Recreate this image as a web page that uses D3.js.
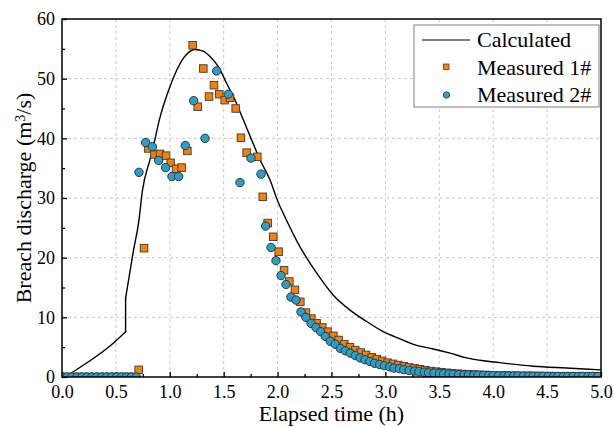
<!DOCTYPE html>
<html><head><meta charset="utf-8"><script src="https://cdn.jsdelivr.net/npm/d3@7"></script></head>
<body style="margin:0">
<script>

// calculated breach hydrograph (time h, discharge m3/s)
const calcTime = [0, 0.07, 0.14, 0.29, 0.445, 0.59, 0.59, 0.661, 0.714, 0.745, 0.816, 0.847, 0.903, 1.002, 1.064, 1.125, 1.234, 1.311, 1.373, 1.45, 1.528, 1.605, 1.682, 1.76, 1.837, 1.93, 2.007, 2.053, 2.208, 2.363, 2.517, 2.672, 2.826, 2.98, 3.135, 3.29, 3.444, 3.6, 3.754, 4.063, 4.372, 4.68, 5.0];
const calcQ    = [0, 0.5, 1.3, 3.1, 5.2, 7.6, 13.2, 21.0, 26.3, 31.1, 36.4, 38.6, 43.1, 48.7, 51.4, 53.4, 54.9, 54.6, 53.7, 52.0, 49.2, 46.4, 43.1, 39.7, 36.4, 33.0, 29.2, 27.4, 21.8, 17.4, 13.7, 11.2, 9.3, 7.6, 6.4, 5.3, 4.7, 4.0, 3.2, 2.4, 1.8, 1.5, 1.2];

// Measured 1#
const m1Time = [0, 0.05, 0.1, 0.15, 0.2, 0.25, 0.3, 0.35, 0.4, 0.45, 0.5, 0.55, 0.6, 0.65, 0.711, 0.761, 0.801, 0.857, 0.909, 0.965, 1.008, 1.058, 1.11, 1.163, 1.212, 1.259, 1.311, 1.364, 1.41, 1.459, 1.509, 1.558, 1.611, 1.66, 1.713, 1.812, 1.862, 1.908, 1.96, 2.01, 2.06, 2.109, 2.161, 2.211, 2.263, 2.313, 2.362, 2.415, 2.464, 2.517, 2.566, 2.619, 2.672, 2.72, 2.771, 2.82, 2.873, 2.92, 2.97, 3.02, 3.07, 3.12, 3.17, 3.22, 3.27, 3.32, 3.37, 3.42, 3.47, 3.52, 3.57, 3.62, 3.67, 3.72, 3.77, 3.82, 3.87, 3.92, 3.97, 4.02, 4.07, 4.12, 4.17, 4.22, 4.27, 4.32, 4.37, 4.42, 4.47, 4.52, 4.57, 4.62, 4.67, 4.72, 4.77, 4.82, 4.87, 4.92, 4.97];
const m1Q    = [0, 0, 0, 0, 0, 0, 0, 0, 0, 0, 0, 0, 0, 0, 1.2, 21.6, 38.3, 37.3, 37.4, 37.1, 35.9, 34.9, 35.1, 37.9, 55.6, 45.3, 51.7, 47.0, 48.9, 47.4, 46.4, 46.8, 45.0, 40.1, 37.6, 36.9, 30.2, 25.8, 23.5, 21.0, 17.9, 16.0, 14.6, 12.6, 10.8, 9.8, 9.0, 8.3, 7.6, 6.9, 6.2, 5.5, 5.0, 4.5, 4.1, 3.7, 3.3, 3.0, 2.7, 2.4, 2.2, 2.0, 1.8, 1.6, 1.45, 1.3, 1.15, 1.0, 0.9, 0.8, 0.7, 0.62, 0.55, 0.5, 0.45, 0.4, 0.36, 0.33, 0.3, 0.28, 0.26, 0.24, 0.22, 0.2, 0.19, 0.18, 0.17, 0.16, 0.15, 0.14, 0.13, 0.12, 0.12, 0.11, 0.1, 0.1, 0.1, 0.1, 0.1];

// Measured 2#
const m2Time = [0, 0.046, 0.092, 0.138, 0.184, 0.23, 0.276, 0.322, 0.368, 0.414, 0.46, 0.506, 0.552, 0.598, 0.644, 0.69, 0.714, 0.776, 0.838, 0.897, 0.961, 1.02, 1.082, 1.144, 1.221, 1.327, 1.435, 1.543, 1.651, 1.753, 1.846, 1.889, 1.939, 1.985, 2.032, 2.078, 2.124, 2.171, 2.217, 2.263, 2.31, 2.356, 2.4, 2.443, 2.489, 2.535, 2.582, 2.628, 2.675, 2.72, 2.766, 2.81, 2.856, 2.9, 2.947, 2.99, 3.04, 3.08, 3.13, 3.17, 3.22, 3.27, 3.31, 3.36, 3.4, 3.45, 3.5, 3.54, 3.59, 3.63, 3.68, 3.73, 3.77, 3.82, 3.86, 3.91, 3.96, 4.0, 4.05, 4.1, 4.14, 4.19, 4.23, 4.28, 4.33, 4.37, 4.42, 4.46, 4.51, 4.56, 4.6, 4.65, 4.69, 4.74, 4.79, 4.83, 4.88, 4.92, 4.97];
const m2Q    = [0, 0, 0, 0, 0, 0, 0, 0, 0, 0, 0, 0, 0, 0, 0, 0, 34.3, 39.3, 38.6, 36.3, 35.1, 33.6, 33.6, 38.8, 46.3, 40.0, 51.3, 47.4, 32.6, 36.7, 34.0, 25.3, 21.7, 19.5, 17.0, 15.5, 13.4, 12.9, 10.9, 10.0, 9.0, 8.3, 7.6, 6.8, 6.0, 5.5, 4.8, 4.4, 4.0, 3.6, 3.2, 2.9, 2.6, 2.3, 2.1, 1.9, 1.7, 1.5, 1.4, 1.25, 1.1, 1.0, 0.9, 0.8, 0.7, 0.65, 0.6, 0.55, 0.5, 0.45, 0.4, 0.38, 0.35, 0.32, 0.3, 0.28, 0.26, 0.24, 0.22, 0.2, 0.19, 0.18, 0.17, 0.16, 0.15, 0.14, 0.13, 0.12, 0.12, 0.11, 0.1, 0.1, 0.1, 0.1, 0.1, 0.1, 0.1, 0.1, 0.1];

const xTicks = [0, 0.5, 1.0, 1.5, 2.0, 2.5, 3.0, 3.5, 4.0, 4.5, 5.0];
const yTicks = [0, 10, 20, 30, 40, 50, 60];
const legendLabels = ["Calculated", "Measured 1#", "Measured 2#"];

const svgWidth = 614;
const svgHeight = 427;
const margin = { top: 19, right: 13, bottom: 50, left: 62 };
const width = svgWidth - margin.left - margin.right;
const height = svgHeight - margin.top - margin.bottom;

const orange = "#ff8000";
const blue = "#2aa0c8";

const svg = d3.select("body")
    .append("svg")
    .attr("width", svgWidth)
    .attr("height", svgHeight);

const chart = svg.append("g")
    .attr("transform", `translate(${margin.left},${margin.top})`);

const scaleX = d3.scaleLinear().domain([0, 5]).range([0, width]);
const scaleY = d3.scaleLinear().domain([0, 60]).range([height, 0]);

chart.append("clipPath")
    .attr("id", "plot-clip")
    .append("rect")
    .attr("width", width)
    .attr("height", height);

// dashed grid
chart.append("g")
    .selectAll("line")
    .data(xTicks.slice(1, -1))
    .join("line")
    .attr("x1", d => scaleX(d)).attr("x2", d => scaleX(d))
    .attr("y1", 0).attr("y2", height)
    .attr("stroke", "#c8c8c8")
    .attr("stroke-dasharray", "3,3");

chart.append("g")
    .selectAll("line")
    .data(yTicks.slice(1, -1))
    .join("line")
    .attr("x1", 0).attr("x2", width)
    .attr("y1", d => scaleY(d)).attr("y2", d => scaleY(d))
    .attr("stroke", "#c8c8c8")
    .attr("stroke-dasharray", "3,3");

// axes, ticks pointing inward
chart.append("g")
    .attr("transform", `translate(0,${height})`)
    .call(d3.axisBottom(scaleX).tickValues(xTicks).tickFormat(d3.format(".1f")).tickSize(-5).tickPadding(8));

chart.append("g")
    .attr("transform", `translate(0,${height})`)
    .call(d3.axisBottom(scaleX).tickValues(d3.range(0.25, 5, 0.5)).tickFormat("").tickSize(-3));

chart.append("g")
    .call(d3.axisLeft(scaleY).tickValues(yTicks).tickSize(-5).tickPadding(7));

chart.append("g")
    .call(d3.axisLeft(scaleY).tickValues(d3.range(5, 60, 10)).tickFormat("").tickSize(-3));

chart.selectAll(".domain").remove();
chart.selectAll("g").attr("font-family", null).attr("font-size", null);
chart.selectAll(".tick line").attr("stroke", "#000").attr("stroke-width", 1.3);
chart.selectAll(".tick text")
    .style("font-family", "Liberation Serif")
    .attr("font-size", 18)
    .attr("fill", "#000");

// calculated line: smooth pieces either side of the vertical jump at 0.59 h
const calcPts = calcQ.map((q, i) => [calcTime[i], q]);
const jump = 5;

const smoothLine = d3.line()
    .x(d => scaleX(d[0]))
    .y(d => scaleY(d[1]))
    .curve(d3.curveMonotoneX);

const straightLine = d3.line()
    .x(d => scaleX(d[0]))
    .y(d => scaleY(d[1]));

const calcG = chart.append("g")
    .attr("clip-path", "url(#plot-clip)")
    .attr("fill", "none")
    .attr("stroke", "#000")
    .attr("stroke-width", 1.4)
    .attr("stroke-linejoin", "round")
    .attr("stroke-linecap", "round");

calcG.append("path").attr("d", smoothLine(calcPts.slice(0, jump + 1)));
calcG.append("path").attr("d", straightLine(calcPts.slice(jump, jump + 2)));
calcG.append("path").attr("d", smoothLine(calcPts.slice(jump + 1)));

// measured points
const pts = chart.append("g").attr("clip-path", "url(#plot-clip)");
const sq = 7.5;

pts.selectAll("rect.m1")
    .data(m1Q)
    .join("rect")
    .attr("class", "m1")
    .attr("x", (d, i) => scaleX(m1Time[i]) - sq / 2)
    .attr("y", d => scaleY(d) - sq / 2)
    .attr("width", sq)
    .attr("height", sq)
    .attr("fill", orange)
    .attr("stroke", "#444")
    .attr("stroke-width", 1);

pts.selectAll("circle.m2")
    .data(m2Q)
    .join("circle")
    .attr("class", "m2")
    .attr("cx", (d, i) => scaleX(m2Time[i]))
    .attr("cy", d => scaleY(d))
    .attr("r", 4.2)
    .attr("fill", blue)
    .attr("stroke", "#333")
    .attr("stroke-width", 1);

// frame
chart.append("rect")
    .attr("width", width)
    .attr("height", height)
    .attr("fill", "none")
    .attr("stroke", "#000")
    .attr("stroke-width", 1.5);

// axis titles
chart.append("text")
    .attr("x", width / 2)
    .attr("y", height + 44)
    .attr("text-anchor", "middle")
    .style("font-family", "Liberation Serif")
    .attr("font-size", 22)
    .text("Elapsed time (h)");

const yTitle = chart.append("text")
    .attr("transform", "rotate(-90)")
    .attr("x", -(height / 2))
    .attr("y", -31)
    .attr("text-anchor", "middle")
    .style("font-family", "Liberation Serif")
    .attr("font-size", 22);
yTitle.append("tspan").text("Breach discharge (m");
yTitle.append("tspan").attr("dy", "-0.45em").attr("font-size", 14).text("3");
yTitle.append("tspan").attr("dy", "0.3em").text("/s)");

// legend
const legend = svg.append("g").attr("transform", "translate(414,25)");

legend.append("rect")
    .attr("width", 185)
    .attr("height", 82)
    .attr("fill", "#fff")
    .attr("stroke", "#808080")
    .attr("stroke-width", 1);

legend.append("line")
    .attr("x1", 8).attr("x2", 56)
    .attr("y1", 15).attr("y2", 15)
    .attr("stroke", "#000")
    .attr("stroke-width", 1);

legend.append("rect")
    .attr("x", 29.5).attr("y", 39)
    .attr("width", 5.5).attr("height", 5.5)
    .attr("fill", orange)
    .attr("stroke", "#444")
    .attr("stroke-width", 0.8);

legend.append("circle")
    .attr("cx", 32.5).attr("cy", 70)
    .attr("r", 3.2)
    .attr("fill", blue)
    .attr("stroke", "#333")
    .attr("stroke-width", 0.8);

legend.selectAll("text.lab")
    .data(legendLabels)
    .join("text")
    .attr("class", "lab")
    .attr("x", 63)
    .attr("y", (d, i) => 22 + i * 27.5)
    .style("font-family", "Liberation Serif")
    .attr("font-size", 22)
    .text(d => d);

</script>
</body>
</html>
